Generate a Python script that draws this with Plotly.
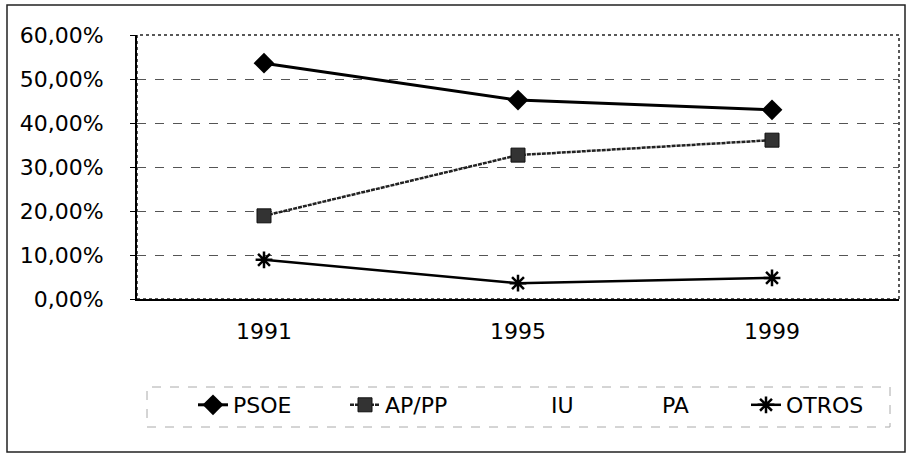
import plotly.graph_objects as go

years = ["1991", "1995", "1999"]
psoe = [0.536, 0.452, 0.430]
appp = [0.189, 0.327, 0.361]
iu = [None, None, None]
pa = [None, None, None]
otros = [0.089, 0.036, 0.048]

y_tick_vals = [0, 0.1, 0.2, 0.3, 0.4, 0.5, 0.6]
y_tick_text = ["0,00%", "10,00%", "20,00%", "30,00%", "40,00%", "50,00%", "60,00%"]

FONT = "DejaVu Sans"
FS = 22

L, R, T, B = 137, 9, 35, 155
W, H = 908, 454
pw, ph = W - L - R, H - T - B

def px_x(p):
    return (p - L) / pw

def px_y(p):
    return (H - B - p) / ph

fig = go.Figure()
fig.add_trace(go.Scatter(x=years, y=psoe, name="PSOE", mode="lines+markers",
                         legend="legend",
                         line=dict(color="black", width=3),
                         marker=dict(symbol="diamond", size=16, color="black")))
fig.add_trace(go.Scatter(x=years, y=appp, name="AP/PP", mode="lines+markers",
                         legend="legend2",
                         line=dict(color="#222", width=2.5, dash="4px,1px"),
                         marker=dict(symbol="square", size=14, color="#333",
                                     line=dict(color="#111", width=1))))
fig.add_trace(go.Scatter(x=years, y=iu, name="IU", mode="lines",
                         legend="legend3",
                         line=dict(color="rgba(0,0,0,0)", width=0)))
fig.add_trace(go.Scatter(x=years, y=pa, name="PA", mode="lines",
                         legend="legend4",
                         line=dict(color="rgba(0,0,0,0)", width=0)))
fig.add_trace(go.Scatter(x=years, y=otros, name="OTROS", mode="lines+markers",
                         legend="legend5",
                         line=dict(color="black", width=2.5),
                         marker=dict(symbol="asterisk-open", size=14, color="black",
                                     line=dict(color="black", width=2.5))))

shapes = [
    dict(type="rect", xref="paper", yref="paper", x0=0, x1=1, y0=0, y1=1,
         line=dict(color="#222", width=1.5, dash="dot"), layer="below"),
    dict(type="rect", xref="paper", yref="paper",
         x0=px_x(7), x1=px_x(905), y0=px_y(452), y1=px_y(5),
         line=dict(color="#222", width=1.5)),
    dict(type="rect", xref="paper", yref="paper",
         x0=px_x(147), x1=px_x(890), y0=px_y(427), y1=px_y(387),
         line=dict(color="#aaa", width=1, dash="dash")),
]

text_starts = [233, 385, 551, 662, 786]
legend_common = dict(orientation="h", xanchor="left", yanchor="middle",
                     y=px_y(405), bgcolor="rgba(0,0,0,0)",
                     font=dict(family=FONT, size=FS, color="black"))
legends = {}
for i, ts in enumerate(text_starts):
    key = "legend" if i == 0 else f"legend{i+1}"
    legends[key] = dict(legend_common, x=px_x(ts - 40))

fig.update_layout(
    width=W, height=H,
    margin=dict(l=L, r=R, t=T, b=B),
    paper_bgcolor="white", plot_bgcolor="white",
    font=dict(family=FONT, size=FS, color="black"),
    showlegend=True,
    shapes=shapes,
    xaxis=dict(type="category", range=[-0.5, 2.5], showgrid=False,
               showline=True, linecolor="black", linewidth=2,
               ticks="", ticklabelstandoff=12,
               tickfont=dict(family=FONT, size=FS)),
    yaxis=dict(range=[0, 0.6], tickvals=y_tick_vals, ticktext=y_tick_text,
               showgrid=True, gridcolor="#555", gridwidth=1, griddash="dash",
               showline=True, linecolor="black", linewidth=2,
               ticks="outside", ticklen=5, tickcolor="black",
               ticklabelstandoff=22, zeroline=False,
               tickfont=dict(family=FONT, size=FS)),
    **legends,
)

fig.write_html("out.html", config={"displayModeBar": False},
               post_script="document.body.style.margin='0';")
